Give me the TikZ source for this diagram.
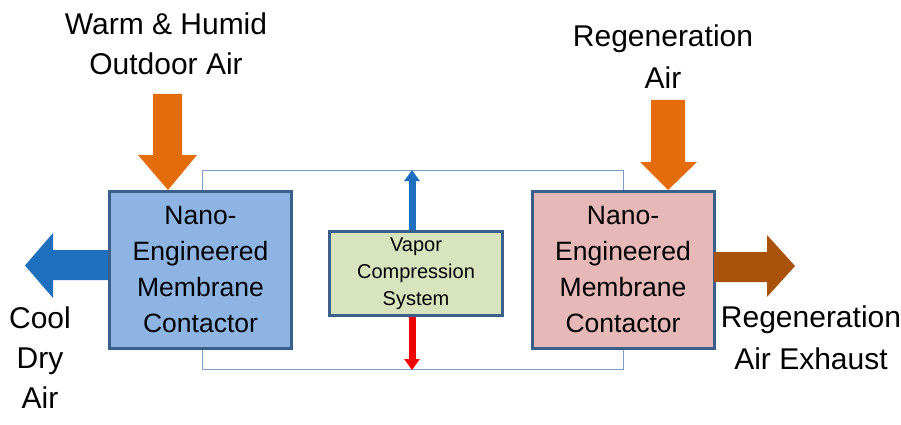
\documentclass[tikz,border=0pt]{standalone}
\usepackage{fontspec}
\setmainfont{Liberation Sans}
\usetikzlibrary{arrows.meta}
\definecolor{boxedge}{HTML}{3A5F8B}
\definecolor{bluefill}{HTML}{8EB4E3}
\definecolor{pinkfill}{HTML}{E6B9B8}
\definecolor{greenfill}{HTML}{D7E4BD}
\definecolor{loopline}{HTML}{7E9CC8}
\definecolor{orangearr}{HTML}{E46C0A}
\definecolor{bluearr}{HTML}{1F6FBF}
\definecolor{brownarr}{HTML}{A9530A}
\definecolor{redarr}{HTML}{F00000}
\tikzset{
  mbox/.style={draw=boxedge, line width=3pt, minimum width=182pt, minimum height=157pt, inner sep=0pt, align=center,
    font=\fontsize{26.5}{36}\selectfont},
  vbox/.style={draw=boxedge, line width=3pt, minimum width=173pt, minimum height=84pt, inner sep=0pt, align=center,
    font=\fontsize{20}{27}\selectfont},
  lbl/.style={inner sep=0pt, align=center, font=\fontsize{30}{40}\selectfont},
  lblb/.style={inner sep=0pt, align=center, font=\fontsize{30}{42}\selectfont},
  thinline/.style={draw=loopline, line width=1pt},
  vflow/.style={line width=7pt, -{Triangle[width=15pt,length=11pt]}},
}
\begin{document}
\begin{tikzpicture}[x=1pt,y=-1pt]
\useasboundingbox[fill=white] (0,0) rectangle (901,425);
% loop rectangle
\coordinate (lt) at (202,170);
\coordinate (rb) at (623,369);
\draw[thinline] (lt) rectangle (rb);
% boxes
\node[mbox, fill=bluefill] (left) at (200.5,270) {Nano-\\Engineered\\Membrane\\Contactor};
\node[mbox, fill=pinkfill] (right) at (623,270) {Nano-\\Engineered\\Membrane\\Contactor};
\node[vbox, fill=greenfill] (vcs) at (416,273.5) {Vapor\\Compression\\System};
% vertical flows
\coordinate (vtop) at (412,170);
\coordinate (vbot) at (412,370);
\draw[vflow, bluearr] (vcs.north -| vtop) -- (vtop);
\draw[vflow, redarr] (vcs.south -| vbot) -- (vbot);
% orange arrow left
\fill[orangearr] (153,94) -- (182,94) -- (182,155) -- (197,155) -- (168,190) -- (138,155) -- (153,155) -- cycle;
% orange arrow right
\fill[orangearr] (651,100) -- (685,100) -- (685,162) -- (697,162) -- (668,190) -- (640,162) -- (651,162) -- cycle;
% blue arrow out
\fill[bluearr] (108,250) -- (53,250) -- (53,233) -- (25,265.5) -- (53,298) -- (53,280) -- (108,280) -- cycle;
% brown arrow out
\fill[brownarr] (714,252) -- (767,252) -- (767,235) -- (795,266) -- (767,297) -- (767,282) -- (714,282) -- cycle;
% labels
\node[lbl] (warm) at (166,43.5) {Warm \& Humid\\Outdoor Air};
\node[lblb] (regen) at (663,57) {Regeneration\\Air};
\node[lbl] (cool) at (40,357.5) {Cool\\Dry\\Air};
\node[lblb] (exh) at (811,337.5) {Regeneration\\Air Exhaust};
\end{tikzpicture}
\end{document}
